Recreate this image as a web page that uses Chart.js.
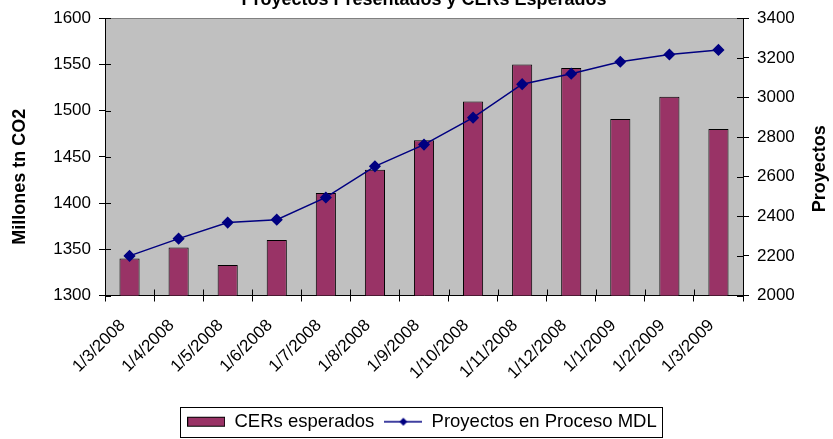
<!DOCTYPE html>
<html>
<head>
<meta charset="utf-8">
<script src="https://cdn.jsdelivr.net/npm/chart.js@4/dist/chart.umd.min.js"></script>
<style>
  body { margin: 0; background: #fff; }
  #chart { display: block; }
</style>
</head>
<body>
<canvas id="chart" width="833" height="439"></canvas>
<script>
// valores
const labels = ["1/3/2008", "1/4/2008", "1/5/2008", "1/6/2008", "1/7/2008", "1/8/2008",
  "1/9/2008", "1/10/2008", "1/11/2008", "1/12/2008", "1/1/2009", "1/2/2009", "1/3/2009"];
const cersEsperados = [1340, 1352, 1333, 1360, 1411, 1436, 1468, 1510, 1550, 1546, 1491, 1515, 1480];
const proyectosMDL = [2200, 2287, 2368, 2383, 2495, 2652, 2762, 2898, 3067, 3120, 3180, 3217, 3240];
const leftTicks = [1300, 1350, 1400, 1450, 1500, 1550, 1600];
const rightTicks = [2000, 2200, 2400, 2600, 2800, 3000, 3200, 3400];

const FONT = "'Liberation Sans', Arial, sans-serif";
const BAR_COLOR = "#993366";
const LINE_COLOR = "#000080";

function legendImage(kind) {
  const c = document.createElement("canvas");
  c.width = 38;
  c.height = 12;
  const g = c.getContext("2d");
  if (kind === "bar") {
    g.fillStyle = BAR_COLOR;
    g.fillRect(0.5, 1.5, 37, 9);
    g.strokeStyle = "#000";
    g.lineWidth = 1;
    g.strokeRect(0.5, 1.5, 37, 9);
  } else {
    g.strokeStyle = LINE_COLOR;
    g.lineWidth = 1.5;
    g.beginPath();
    g.moveTo(0, 6);
    g.lineTo(38, 6);
    g.stroke();
    g.fillStyle = LINE_COLOR;
    g.beginPath();
    g.moveTo(19, 2);
    g.lineTo(23, 6);
    g.lineTo(19, 10);
    g.lineTo(15, 6);
    g.closePath();
    g.fill();
  }
  return c;
}

// fondo gris, titulo, titulos de ejes, marcas interiores y marco de la leyenda
const decorations = {
  id: "decorations",
  beforeDraw(chart) {
    const { ctx, chartArea: a } = chart;
    ctx.save();
    ctx.fillStyle = "#C0C0C0";
    ctx.fillRect(a.left, a.top, a.right - a.left, a.bottom - a.top);
    ctx.strokeStyle = "#808080";
    ctx.lineWidth = 1;
    ctx.strokeRect(Math.round(a.left) + 0.5, Math.round(a.top) + 0.5,
      Math.round(a.right - a.left), Math.round(a.bottom - a.top));
    ctx.restore();
  },
  beforeDatasetsDraw(chart) {
    const { ctx, chartArea: a, scales } = chart;
    ctx.save();
    ctx.strokeStyle = "#000";
    ctx.lineWidth = 1;
    ctx.beginPath();
    scales.y.ticks.forEach((t) => {
      const py = Math.round(scales.y.getPixelForValue(t.value)) + 0.5;
      ctx.moveTo(a.left, py);
      ctx.lineTo(a.left + 6, py);
    });
    scales.y1.ticks.forEach((t) => {
      const py = Math.round(scales.y1.getPixelForValue(t.value)) + 0.5;
      ctx.moveTo(a.right, py);
      ctx.lineTo(a.right - 6, py);
    });
    const half = (scales.x.getPixelForValue(1) - scales.x.getPixelForValue(0)) / 2;
    for (let i = 0; i <= labels.length; i++) {
      const px = Math.round(scales.x.getPixelForValue(i) - half) + 0.5;
      ctx.moveTo(px, a.bottom);
      ctx.lineTo(px, a.bottom - 6);
    }
    ctx.stroke();
    ctx.restore();
  },
  afterDraw(chart) {
    const { ctx, chartArea: a } = chart;
    const midY = (a.top + a.bottom) / 2;
    ctx.save();
    ctx.fillStyle = "#000";
    ctx.font = "bold 18px " + FONT;
    ctx.textAlign = "center";
    ctx.textBaseline = "alphabetic";
    ctx.fillText("Proyectos Presentados y CERs Esperados", 424, 4.5);

    ctx.textBaseline = "middle";
    ctx.save();
    ctx.translate(a.left - 85, midY + 20);
    ctx.rotate(-Math.PI / 2);
    ctx.fillText("Millones tn CO2", 0, 0);
    ctx.restore();
    ctx.save();
    ctx.translate(a.right + 77, midY + 12);
    ctx.rotate(-Math.PI / 2);
    ctx.fillText("Proyectos", 0, 0);
    ctx.restore();

    const hb = chart.legend.legendHitBoxes;
    if (hb && hb.length) {
      const left = Math.min(...hb.map((b) => b.left)) - 7;
      const right = Math.max(...hb.map((b) => b.left + b.width)) + 5;
      const top = hb[0].top - 6;
      ctx.strokeStyle = "#000";
      ctx.lineWidth = 1;
      ctx.strokeRect(Math.round(left) + 0.5, Math.round(top) + 0.5,
        Math.round(right - left), 30);
    }
    ctx.restore();
  }
};

new Chart(document.getElementById("chart"), {
  data: {
    labels: labels,
    datasets: [
      {
        type: "bar",
        label: "CERs esperados",
        data: cersEsperados,
        yAxisID: "y",
        backgroundColor: BAR_COLOR,
        borderColor: "#000",
        borderWidth: 1,
        barPercentage: 0.41,
        categoryPercentage: 1,
        order: 2,
      },
      {
        type: "line",
        label: "Proyectos en Proceso MDL",
        data: proyectosMDL,
        yAxisID: "y1",
        borderColor: LINE_COLOR,
        borderWidth: 1.5,
        backgroundColor: LINE_COLOR,
        pointStyle: "rectRot",
        pointRadius: 5,
        pointBackgroundColor: LINE_COLOR,
        pointBorderColor: LINE_COLOR,
        tension: 0,
        order: 1,
      },
    ],
  },
  options: {
    responsive: false,
    devicePixelRatio: 1,
    animation: false,
    layout: { padding: { top: 12.5, left: 11, right: 0, bottom: -2 } },
    plugins: {
      title: { display: false },
      tooltip: { enabled: false },
      legend: {
        position: "bottom",
        labels: {
          font: { family: FONT, size: 18.5 },
          color: "#000",
          usePointStyle: true,
          pointStyleWidth: 38,
          boxWidth: 38,
          boxHeight: 12,
          padding: 10,
          generateLabels: () => [
            { text: "CERs esperados", pointStyle: legendImage("bar"), datasetIndex: 0, fontColor: "#000", lineWidth: 0 },
            { text: "Proyectos en Proceso MDL", pointStyle: legendImage("line"), datasetIndex: 1, fontColor: "#000", lineWidth: 0 },
          ],
        },
      },
    },
    scales: {
      x: {
        offset: true,
        grid: { offset: true, drawOnChartArea: false, drawTicks: true, tickLength: 6, color: "#000" },
        border: { color: "#000" },
        ticks: {
          color: "#000",
          font: { family: FONT, size: 17 },
          minRotation: 45,
          maxRotation: 45,
          autoSkip: false,
          padding: 14,
          labelOffset: -7,
        },
        afterFit: (scale) => { scale.height = 107; },
      },
      y: {
        position: "left",
        min: leftTicks[0],
        max: leftTicks[leftTicks.length - 1],
        afterBuildTicks: (scale) => { scale.ticks = leftTicks.map((v) => ({ value: v })); },
        grid: { drawOnChartArea: false, drawTicks: true, tickLength: 6, color: "#000" },
        border: { color: "#000" },
        ticks: { color: "#000", font: { family: FONT, size: 17 }, padding: 8, callback: (v) => String(v) },
        afterFit: (scale) => { scale.width = 94; },
      },
      y1: {
        position: "right",
        min: rightTicks[0],
        max: rightTicks[rightTicks.length - 1],
        afterBuildTicks: (scale) => { scale.ticks = rightTicks.map((v) => ({ value: v })); },
        grid: { drawOnChartArea: false, drawTicks: true, tickLength: 6, color: "#000" },
        border: { color: "#000" },
        ticks: { color: "#000", font: { family: FONT, size: 17 }, padding: 8, callback: (v) => String(v) },
        afterFit: (scale) => { scale.width = 90; },
      },
    },
  },
  plugins: [decorations],
});
</script>
</body>
</html>
